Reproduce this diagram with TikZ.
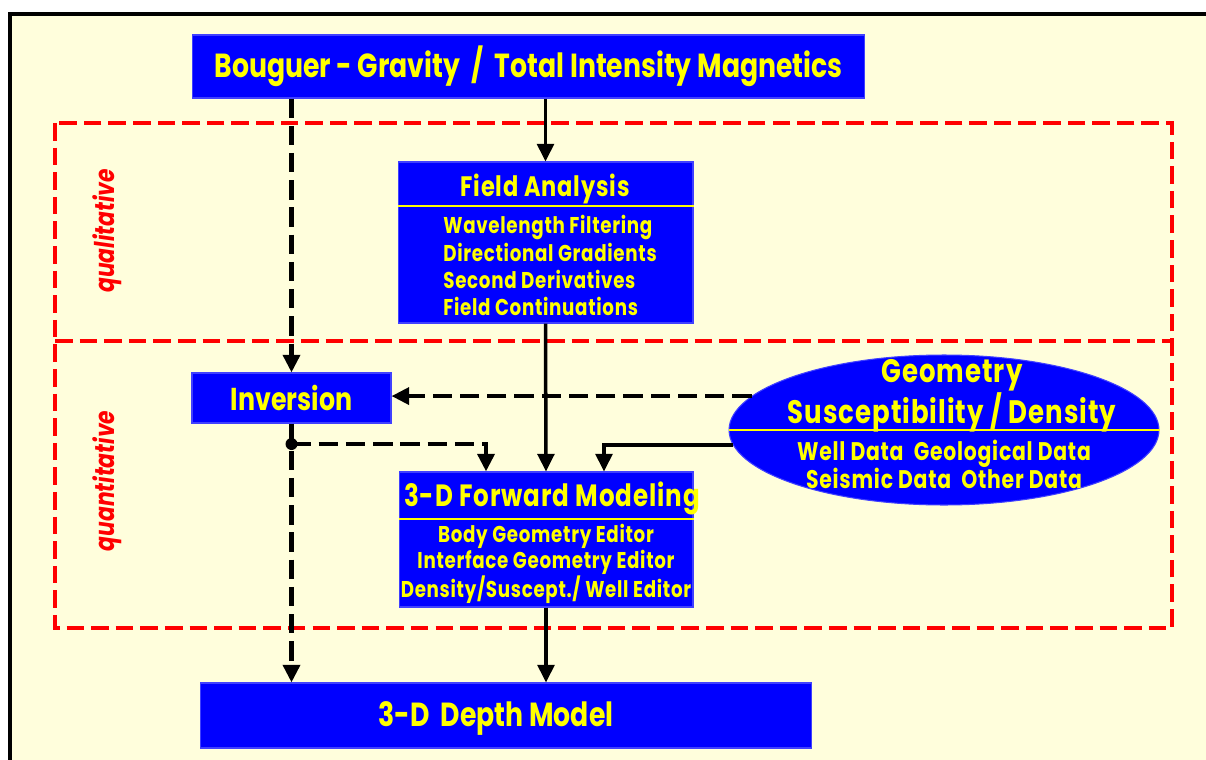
\documentclass[tikz,border=0pt]{standalone}
\usepackage{fontspec}
\setmainfont{Poppins}
\newfontfamily\dar{Poppins}[FakeStretch=0.8]
\newfontfamily\aralik{Poppins}[FakeStretch=0.8,LetterSpace=3]
\usetikzlibrary{arrows.meta,shapes.geometric}
\definecolor{kutuMavi}{HTML}{0000FF}
\definecolor{yaziSari}{HTML}{FFFF00}
\definecolor{zemin}{HTML}{FFFEDC}
\definecolor{cizgiKirmizi}{HTML}{FF0000}

\begin{document}
\begin{tikzpicture}[x=0.02cm,y=-0.02cm,
  kutu/.style={fill=kutuMavi,draw=kutuMavi!75!white,line width=0.6pt,inner sep=0pt,text=yaziSari,font=\dar\bfseries\fontsize{18}{21}\selectfont},
  madde/.style={text=yaziSari,inner sep=0pt,font=\aralik\bfseries\fontsize{13}{15.4}\selectfont},
  ok/.style={line width=2pt,-{Triangle[width=9.5pt,length=10pt]}},
  kesik/.style={ok,line width=2.4pt,dash pattern=on 11pt off 4.5pt},
  sariCizgi/.style={yaziSari,line width=1.1pt},
  bolge/.style={cizgiKirmizi,line width=2.3pt,dash pattern=on 10pt off 4pt},
  bolgeYazi/.style={rotate=90,text=cizgiKirmizi,font=\dar\bfseries\itshape\fontsize{15.5}{18}\selectfont}]
\useasboundingbox (0,0) rectangle (1206,760);
\fill[zemin] (10,14) rectangle (1206,760);
\draw[line width=2.3pt] (10,760) -- (10,14) -- (1206,14);

% kirmizi bolgeler
\draw[bolge] (55,123) rectangle (1172,628);
\draw[bolge] (55,341) -- (1172,341);
\node[bolgeYazi] (nitel) at (107,231) {qualitative};
\node[bolgeYazi] (nicel) at (107,481) {quantitative};

% kutular
\node[kutu,minimum width=13.46cm,minimum height=1.26cm,font=\dar\bfseries\fontsize{19}{22}\selectfont] (bouguer) at (528.5,66.5) {Bouguer - Gravity \ / \ Total Intensity Magnetics};
\node[kutu,minimum width=5.9cm,minimum height=3.22cm] (fa) at (545.5,242.5) {};
\node[kutu,minimum width=3.98cm,minimum height=1cm] (inv) at (291.5,398) {Inversion};
\node[kutu,minimum width=5.88cm,minimum height=2.7cm] (fm) at (546,539.5) {};
\node[kutu,minimum width=12.24cm,minimum height=1.3cm] (depth) at (506,715.5) {};
\node[kutu,ellipse,minimum width=8.6cm,minimum height=3cm] (geo) at (944,430) {};

\node[text=yaziSari,font=\dar\bfseries\fontsize{19}{22}\selectfont] (dmyazi) at (496,718) {3-D \ Depth Model};

% alan analizi
\draw[sariCizgi] (fa.west |- 0,206) -- (fa.east |- 0,206);
\node[text=yaziSari,font=\aralik\bfseries\fontsize{16}{19}\selectfont] (fabaslik) at (545,189) {Field Analysis};
\node[madde,anchor=west,align=left] (famadde) at (443,265.5) {Wavelength Filtering\\Directional Gradients\\Second Derivatives\\Field Continuations};

% ileri modelleme
\draw[sariCizgi] (fm.west |- 0,519) -- (fm.east |- 0,519);
\node[text=yaziSari,font=\aralik\bfseries\fontsize{17.5}{20}\selectfont] (fmbaslik) at (552,498) {3-D Forward Modeling};
\node[madde,align=center,font=\aralik\bfseries\fontsize{13}{14.8}\selectfont] (fmmadde) at (546,564) {Body Geometry Editor\\Interface Geometry Editor\\Density/Suscept./ Well Editor};

% elips
\draw[sariCizgi] (geo.west) -- (geo.east);
\node[text=yaziSari,align=center,font=\aralik\bfseries\fontsize{18.5}{21.5}\selectfont] (geobaslik) at (952,396) {Geometry\\Susceptibility / Density};
\node[madde,align=center,font=\aralik\bfseries\fontsize{14.5}{16}\selectfont] (geomadde) at (944,464) {Well Data \ Geological Data\\Seismic Data \ Other Data};

% baglantilar
\coordinate (dal) at (inv.south |- 0,444);
\draw[ok] (fa.north |- bouguer.south) -- (fa.north);
\draw[kesik] (inv.north |- bouguer.south) -- (inv.north);
\draw[ok] (fa.south) -- (fm.north);
\draw[kesik] (geo.170) -- (geo.170 -| inv.east);
\draw[ok] (geo.184) -| ([xshift=1.16cm]fm.north);
\draw[kesik] (inv.south) -- (inv.south |- depth.north);
\draw[kesik] (dal) -| ([xshift=-1.2cm]fm.north);
\fill (dal) circle (6);
\draw[ok] (fm.south) -- (fm.south |- depth.north);
\end{tikzpicture}
\end{document}
